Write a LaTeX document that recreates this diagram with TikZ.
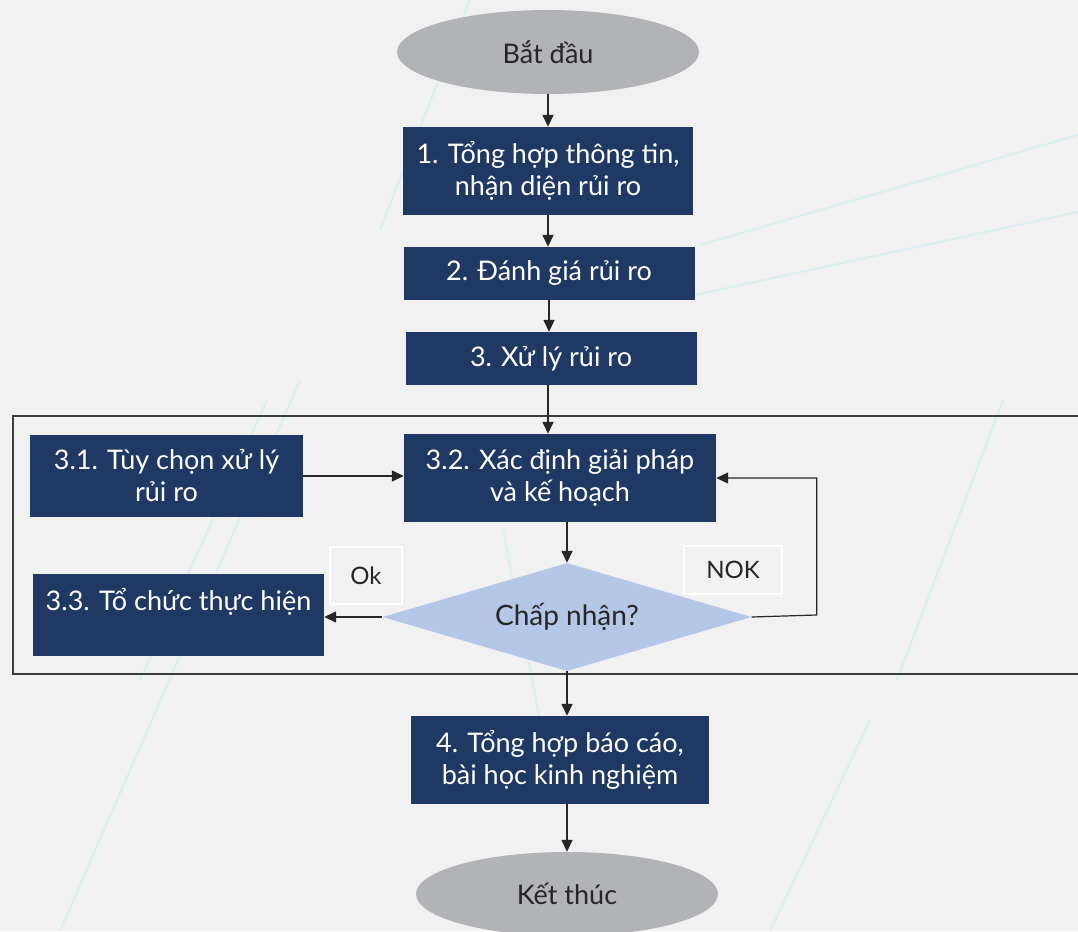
\documentclass[tikz,border=0pt]{standalone}
\usepackage{fontspec}
\setmainfont{Lato}
\usetikzlibrary{shapes.geometric,arrows.meta}
\definecolor{navy}{HTML}{203864}
\definecolor{ovalgray}{HTML}{B2B3B7}
\definecolor{lightblue}{HTML}{B4C7E7}
\definecolor{bggray}{HTML}{F1F1F1}
\definecolor{txtdark}{HTML}{262626}
\definecolor{bgline}{HTML}{DCEFF0}

\begin{document}
\begin{tikzpicture}[x=1pt,y=-1pt,
	box/.style={fill=navy, text=white, align=center, inner sep=0pt, font=\fontsize{27}{32}\selectfont},
	oval/.style={ellipse, fill=ovalgray, text=txtdark, minimum width=302, minimum height=84, inner sep=0pt, font=\fontsize{27}{32}\selectfont},
	decision/.style={diamond, fill=lightblue, text=txtdark, aspect=3.4, minimum width=369, minimum height=108, inner sep=0pt, font=\fontsize{28}{32}\selectfont},
	tag/.style={draw=white, line width=1.2, fill=bggray, text=txtdark, inner sep=0pt, font=\fontsize{24}{28}\selectfont},
	arr/.style={-{Triangle[length=12, width=11]}, line width=1.5, draw=txtdark},
	frame/.style={line width=1.3, draw=txtdark!90}]
	% background
	\path[use as bounding box, fill=bggray] (0,0) rectangle (1078,931);
	\draw[bgline, line width=2] (267,400) -- (140,680) (300,380) -- (60,931) (503,530) -- (540,720);
	\draw[bgline, line width=2] (1003,400) -- (897,680) (690,296) -- (1078,212) (700,245) -- (1078,135);
	\draw[bgline, line width=2] (470,0) -- (380,230) (770,931) -- (870,720);

	\node[oval] (start) at (548,52) {Bắt đầu};
	\node[box, minimum width=290, minimum height=88] (s1) at (548,171) {1. Tổng hợp thông tin,\\nhận diện rủi ro};
	\node[box, minimum width=291, minimum height=53] (s2) at (549,273.5) {2. Đánh giá rủi ro};
	\node[box, minimum width=291, minimum height=53] (s3) at (551,358.5) {3. Xử lý rủi ro};

	% khung buoc 3
	\draw[frame] (13,416) rectangle (1100,674);
	\node[box, minimum width=273, minimum height=82] (s31) at (166.5,476) {3.1. Tùy chọn xử lý\\rủi ro};
	\node[box, minimum width=312, minimum height=88] (s32) at (560,478) {3.2. Xác định giải pháp\\và kế hoạch};
	\node[decision] (check) at (567,617) {Chấp nhận?};
	\node[box, minimum width=291, minimum height=82] (s33) at (178.5,615) {3.3. Tổ chức thực hiện\\\mbox{}};
	\node[tag, minimum width=72, minimum height=57] (ok) at (366,575.5) {Ok};
	\node[tag, minimum width=98, minimum height=48] (nok) at (733,570) {NOK};

	\node[box, minimum width=298, minimum height=88] (s4) at (560,760) {4. Tổng hợp báo cáo,\\bài học kinh nghiệm};
	\node[oval] (end) at (567,894) {Kết thúc};

	\draw[arr] (start) -- (s1);
	\draw[arr] (s1.south) -- (s1.south |- s2.north);
	\draw[arr] (s2.south) -- (s2.south |- s3.north);
	\draw[arr] (s3.south -| start) -- (start |- s32.north);
	\draw[arr] (s31.east) -- (s31.east -| s32.west);
	\draw[arr] (check.north |- s32.south) -- (check.north);
	\draw[arr] (check.west) -- (check.west -| s33.east);
	\draw[arr, line width=1.2] (check.east) -- ++(65,-2) |- (s32.east);
	\draw[arr] (check.south) -- (check.south |- s4.north);
	\draw[arr] (end.north |- s4.south) -- (end.north);
\end{tikzpicture}
\end{document}
